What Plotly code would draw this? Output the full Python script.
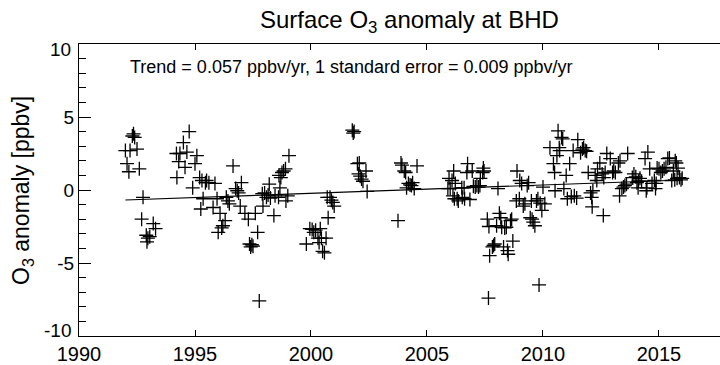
import plotly.graph_objects as go

# ---- data (decimal year, O3 anomaly in ppbv) ----
years_1992 = [1992.00, 1992.07, 1992.15, 1992.20, 1992.30, 1992.35, 1992.40, 1992.50, 1992.60,
              1992.70, 1992.76, 1992.90, 1992.93, 1992.97, 1993.05, 1993.20, 1993.30]
anom_1992 = [2.7, 1.8, 1.25, 2.7, 3.7, 3.85, 3.6, 2.8, 1.45,
             -2.0, -0.5, -3.1, -3.55, -3.3, -3.2, -2.3, -2.65]

years_1994 = [1994.20, 1994.22, 1994.30, 1994.35, 1994.50, 1994.57, 1994.65, 1994.75, 1994.90,
              1995.00, 1995.08, 1995.20, 1995.25, 1995.30, 1995.35, 1995.45, 1995.50, 1995.60,
              1995.78, 1995.86, 1995.95, 1996.00, 1996.08, 1996.15, 1996.20, 1996.30, 1996.35,
              1996.42, 1996.48, 1996.64, 1996.75, 1996.82, 1996.88, 1996.95, 1997.00, 1997.15,
              1997.30, 1997.35, 1997.40, 1997.45, 1997.50, 1997.60, 1997.70, 1997.77, 1997.90,
              1997.93, 1998.00, 1998.08, 1998.15, 1998.20, 1998.25, 1998.40, 1998.45, 1998.60,
              1998.62, 1998.66, 1998.70, 1998.75, 1998.82, 1998.90, 1998.92, 1999.00, 1999.05]
anom_1994 = [2.5, 0.85, 1.95, 2.5, 3.25, 1.55, 2.6, 4.0, 0.15,
             1.8, 2.35, 0.85, -1.3, 0.65, -0.6, 0.5, 0.65, 0.5,
             -1.2, 0.45, -0.6, -2.9, -1.6, -2.6, -2.45, -2.1, -0.5,
             -0.75, -0.95, 1.65, 0.1, -0.05, -0.2, -1.1, 0.5, -1.6,
             -2.0, -3.7, -3.9, -3.75, -3.85, -1.6, -2.9, -7.6, -0.25,
             -1.1, -0.2, -0.5, -0.35, 0.4, -0.55, -1.75, -0.4, -0.5,
             1.0, 0.15, 0.85, 1.2, 1.3, 1.45, -0.75, -0.4, 2.35]

years_2000 = [1999.80, 1999.95, 2000.05, 2000.12, 2000.20, 2000.30, 2000.35, 2000.40, 2000.45,
              2000.50, 2000.58, 2000.65, 2000.70, 2000.74, 2000.82, 2000.88, 2000.94, 2001.00,
              2001.78, 2001.82, 2001.86, 2002.00, 2002.05, 2002.08, 2002.12, 2002.18, 2002.24,
              2002.37, 2002.42]
anom_2000 = [-3.7, -2.65, -2.7, -2.9, -2.75, -3.3, -3.6, -2.65, -3.3,
             -4.2, -4.3, -3.3, -0.5, -1.9, -0.5, -0.7, -0.85, -1.1,
             4.1, 3.9, 4.0, 1.8, 1.1, 1.85, 0.95, 0.75, 0.6,
             1.3, -0.1]

years_2004 = [2003.75, 2003.88, 2003.92, 2004.02, 2004.08, 2004.12, 2004.20, 2004.27, 2004.33,
              2004.38, 2004.45, 2004.57]
anom_2004 = [-2.1, 1.85, 1.7, 1.3, 1.2, 0.15, 0.45, 0.35, 0.3,
             0.5, 0.1, 1.65]

years_2006 = [2005.90, 2005.95, 2006.00, 2006.08, 2006.12, 2006.15, 2006.18, 2006.22, 2006.30,
              2006.35, 2006.50, 2006.52, 2006.60, 2006.62, 2006.72, 2006.75, 2006.85, 2006.95,
              2007.00, 2007.08, 2007.15, 2007.22, 2007.28, 2007.30, 2007.40, 2007.43, 2007.46,
              2007.60, 2007.65, 2007.67, 2007.70, 2007.82, 2007.87, 2007.92, 2008.00, 2008.06,
              2008.12, 2008.18, 2008.22, 2008.30, 2008.35, 2008.42, 2008.47, 2008.50, 2008.60,
              2008.65, 2008.70, 2008.85, 2008.88, 2008.98, 2009.00, 2009.08, 2009.15, 2009.22,
              2009.32, 2009.38, 2009.45, 2009.50, 2009.53, 2009.58, 2009.65, 2009.72, 2009.78,
              2009.83, 2009.88, 2009.95, 2010.00, 2010.08]
anom_2006 = [0.1, 0.8, 0.1, 0.65, -0.4, 1.3, -0.6, 0.45, -0.6,
             -0.75, 0.15, -0.5, 0.15, -0.6, 1.2, 1.8, -0.65, 1.3,
             0.25, 0.2, 0.3, 0.2, 0.3, 0.8, 1.2, 1.5, 1.3,
             -2.0, -7.4, -2.5, -4.5, -3.9, -3.8, -3.7, -2.45, 0.1,
             -1.6, -1.9, -2.55, -3.9, -2.6, -2.55, -4.15, -4.4, -2.1,
             -2.0, -3.5, -0.75, 1.3, -0.6, 0.65, 0.45, -1.1, -0.95,
             0.3, 0.5, -1.9, -0.75, -2.0, -2.2, -2.45, -0.75, -0.6,
             -6.5, -0.9, -1.4, 0.2, -0.95]

years_2010 = [2010.30, 2010.45, 2010.50, 2010.52, 2010.60, 2010.65, 2010.70, 2010.72, 2010.80,
              2010.85, 2010.90, 2011.00, 2011.05, 2011.15, 2011.22, 2011.30, 2011.35, 2011.45,
              2011.50, 2011.62, 2011.70, 2011.75, 2011.82, 2011.88, 2011.95, 2012.05, 2012.10,
              2012.12, 2012.15, 2012.25, 2012.32, 2012.35, 2012.45, 2012.55, 2012.60, 2012.62,
              2012.68, 2012.75, 2012.90, 2013.00, 2013.05, 2013.12, 2013.25, 2013.30, 2013.32,
              2013.40, 2013.47, 2013.53, 2013.60, 2013.65, 2013.85, 2013.92, 2014.00, 2014.05,
              2014.10, 2014.12, 2014.18, 2014.25, 2014.40, 2014.45, 2014.48, 2014.52, 2014.60,
              2014.70, 2014.80, 2014.85, 2014.88, 2014.92, 2015.00, 2015.08, 2015.15, 2015.22,
              2015.30, 2015.38, 2015.45, 2015.55, 2015.62, 2015.68, 2015.70, 2015.75, 2015.78,
              2015.82, 2015.88, 2015.95, 2016.00]
anom_2010 = [2.9, 1.8, 1.2, -0.05, 2.35, 4.05, 2.9, 2.7, 3.6,
             3.5, 0.1, 1.0, -0.6, 1.8, -0.45, 2.7, -0.4, -0.55,
             3.45, 2.55, 2.8, 2.9, 2.7, 2.65, 1.2, -0.2, -0.5,
             -1.15, -0.05, 1.0, 0.65, 1.45, 1.85, 1.1, -1.75, 0.85,
             1.2, 2.5, 2.15, 1.2, 1.3, 1.2, 1.85, -0.4, 2.0,
             0.1, 0.2, 0.3, 0.4, 2.5, 0.85, 1.1, 0.9, 0.5,
             0.15, 0.6, 0.8, 0.6, 2.15, -0.05, 0.15, 2.6, 1.45,
             0.45, 0.65, 0.1, 0.45, 1.5, 1.45, 1.2, 1.3, 1.45,
             1.55, 2.15, 2.2, 0.65, 1.3, 0.7, 2.0, 1.85, 0.8,
             1.5, 0.85, 0.7, 0.8]

years = years_1992 + years_1994 + years_2000 + years_2004 + years_2006 + years_2010
anomaly = anom_1992 + anom_1994 + anom_2000 + anom_2004 + anom_2006 + anom_2010

# linear trend
trend_slope = 0.057        # ppbv / yr
trend_years = [1992.0, 2016.0]
trend_mid_year = 2004.0
trend_mid_value = 0.0
trend_values = [trend_mid_value + trend_slope * (y - trend_mid_year) for y in trend_years]

x_ticks = [1990, 1995, 2000, 2005, 2010, 2015]
y_ticks = [-5, 0, 5]
# the extreme y labels are drawn slightly inside the axis range, like the original
y_edge_labels = [("10", 9.6), ("-10", -9.6)]

FONT = "Liberation Sans, Arial, Helvetica, sans-serif"

fig = go.Figure()
fig.add_trace(go.Scatter(
    x=years, y=anomaly, mode="markers",
    marker=dict(symbol="cross-thin-open", size=10, color="black",
                line=dict(color="black", width=1.3)),
    showlegend=False, hoverinfo="skip"))
fig.add_trace(go.Scatter(
    x=trend_years, y=trend_values, mode="lines",
    line=dict(color="black", width=1.2), showlegend=False, hoverinfo="skip"))

annotations = [
    dict(text="Surface O<sub>3</sub> anomaly at BHD", xref="paper", yref="paper",
         x=0.516, y=1.078, xanchor="center", yanchor="middle", showarrow=False,
         font=dict(size=24, family=FONT)),
    dict(text="Trend = 0.057 ppbv/yr, 1 standard error = 0.009 ppbv/yr",
         xref="paper", yref="paper", x=0.0764, y=0.921, xanchor="left", yanchor="middle",
         showarrow=False, font=dict(size=18, family=FONT)),
    dict(text="O<sub>3</sub> anomaly [ppbv]", xref="paper", yref="paper",
         x=-0.089, y=0.5, xanchor="center", yanchor="middle", textangle=-90,
         showarrow=False, font=dict(size=23, family=FONT)),
]
for txt, yv in y_edge_labels:
    annotations.append(dict(text=txt, xref="paper", yref="y", x=0, y=yv,
                            xanchor="right", yanchor="middle", xshift=-6,
                            showarrow=False, font=dict(size=19, family=FONT)))

fig.update_layout(
    width=720, height=365,
    margin=dict(l=79, r=0, t=44, b=29),
    plot_bgcolor="white", paper_bgcolor="white",
    font=dict(family=FONT, color="black", size=19),
    xaxis=dict(range=[1990, 2017.63], tickvals=x_ticks, ticktext=[str(v) for v in x_ticks],
               showline=True, linecolor="black", linewidth=1, mirror="ticks",
               ticks="inside", ticklen=6, tickcolor="black", tickwidth=1,
               showgrid=False, zeroline=False, tickfont=dict(size=20, family=FONT)),
    yaxis=dict(range=[-10, 10], tickvals=y_ticks, ticktext=[str(v) for v in y_ticks],
               showline=True, linecolor="black", linewidth=1, mirror=False,
               ticks="inside", ticklen=12, tickcolor="black", tickwidth=1,
               minor=dict(dtick=1, ticks="inside", ticklen=7, tickcolor="black", tickwidth=1),
               showgrid=False, zeroline=False, tickfont=dict(size=19, family=FONT)),
    annotations=annotations,
)

fig.write_html("out.html")
